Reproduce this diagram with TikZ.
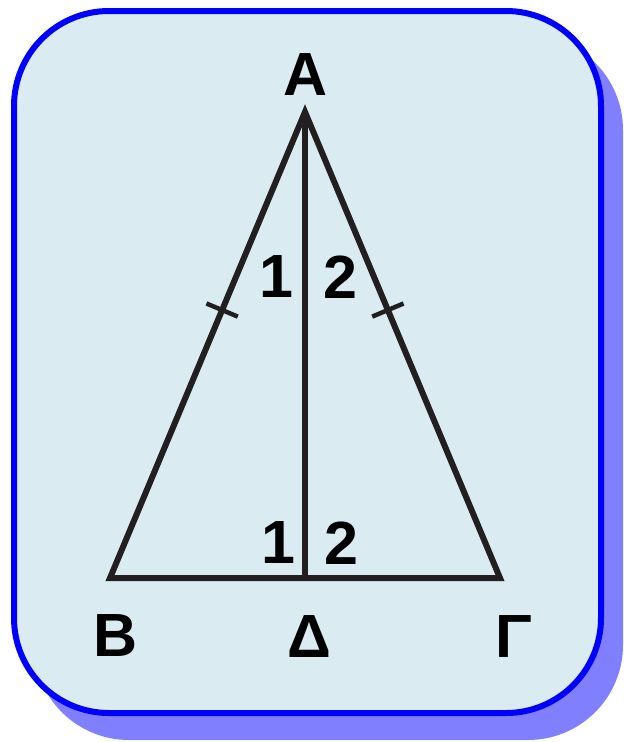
\documentclass[tikz,border=0pt]{standalone}
\usepackage{fontspec}
\setmainfont{Liberation Sans}
\usetikzlibrary{calc}
\definecolor{panelfill}{RGB}{218,236,242}
\definecolor{panelblue}{RGB}{0,0,255}
\definecolor{shadowblue}{RGB}{128,128,255}
\definecolor{ink}{RGB}{35,31,32}
\begin{document}
\begin{tikzpicture}[x=1pt,y=-1pt,
  panel/.style={rounded corners=95pt},
  side/.style={draw=ink,line width=6pt},
  lbl/.style={font=\fontsize{61}{64}\selectfont\bfseries,inner sep=0pt,text=black},
  tick/.style={draw=ink,line width=4.5pt}]
\useasboundingbox (0,0) rectangle (624,742);
% shadow
\fill[shadowblue,panel] (34,35) rectangle (623,740);
% panel
\draw[panel,fill=panelfill,draw=panelblue,line width=6pt] (14,11) rectangle (601,713);
% vertices
\coordinate (vA) at (305,112);
\coordinate (vB) at (110,578);
\coordinate (vG) at (500,578);
\coordinate (vD) at (305,578);
\draw[side,line join=miter] (vA) -- (vB) -- (vG) -- cycle;
\draw[side] (vA) -- (vD);
% ticks
\coordinate (t1) at ($(vA)!0.425!(vB)$);
\coordinate (t2) at ($(vA)!0.425!(vG)$);
\draw[tick] ($(t1)!17pt!90:(vB)$) -- ($(t1)!17pt!-90:(vB)$);
\draw[tick] ($(t2)!17pt!90:(vG)$) -- ($(t2)!17pt!-90:(vG)$);
% labels
\node[lbl] (lA) at (306,75) {A};
\node[lbl] (lB) at (116,636) {B};
\node[lbl] (lD) at (309,637) {Δ};
\node[lbl] (lG) at (514,637) {Γ};
\node[lbl] (u1) at (276,277) {1};
\node[lbl] (u2) at (340,277) {2};
\node[lbl] (d1) at (278,543) {1};
\node[lbl] (d2) at (341,543) {2};
\end{tikzpicture}
\end{document}
